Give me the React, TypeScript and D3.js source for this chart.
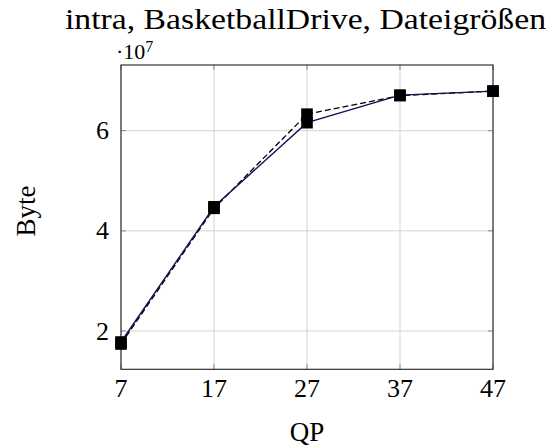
import React from "react";
import * as d3 from "d3";

const qpValues = [7, 17, 27, 37, 47];
const solidSeries = [1.78, 4.48, 6.16, 6.71, 6.79];
const dashedSeries = [1.74, 4.45, 6.33, 6.7, 6.79];
const yTicks = [2, 4, 6];
const xTicks = [7, 17, 27, 37, 47];

const W = 552;
const H = 448;
const FONT = "Liberation Serif, DejaVu Serif, serif";

export default function App() {
  const x = d3.scaleLinear().domain([7, 47]).range([121, 493]);
  const y = d3.scaleLinear().domain([1.235, 7.312]).range([369.3, 65]);
  const [x0, x1] = x.range();
  const [y0, y1] = y.range();

  const line = d3
    .line<number>()
    .x((_, i) => x(qpValues[i]))
    .y((d) => y(d));

  const ms = 11.6;

  const markers = (data: number[], key: string) =>
    data.map((v, i) => (
      <rect
        key={key + i}
        x={x(qpValues[i]) - ms / 2}
        y={y(v) - ms / 2}
        width={ms}
        height={ms}
        fill="#000"
      />
    ));

  const txt = { fontFamily: FONT };

  return (
    <svg
      width={W}
      height={H}
      style={{ position: "absolute", left: 0, top: 0, background: "#fff", fontFamily: FONT }}
    >
      {/* grid */}
      {xTicks.map((t) => (
        <line key={"gx" + t} x1={x(t)} x2={x(t)} y1={y1} y2={y0} stroke="#d3d3d3" strokeWidth={1} />
      ))}
      {yTicks.map((t) => (
        <line key={"gy" + t} x1={x0} x2={x1} y1={y(t)} y2={y(t)} stroke="#d3d3d3" strokeWidth={1} />
      ))}
      {/* tick marks */}
      {xTicks.map((t) => (
        <g key={"tx" + t} stroke="#8a8a8a" strokeWidth={1}>
          <line x1={x(t)} x2={x(t)} y1={y0} y2={y0 - 5} />
          <line x1={x(t)} x2={x(t)} y1={y1} y2={y1 + 5} />
        </g>
      ))}
      {yTicks.map((t) => (
        <g key={"ty" + t} stroke="#8a8a8a" strokeWidth={1}>
          <line x1={x0} x2={x0 + 5} y1={y(t)} y2={y(t)} />
          <line x1={x1} x2={x1 - 5} y1={y(t)} y2={y(t)} />
        </g>
      ))}
      {/* frame */}
      <rect x={x0} y={y1} width={x1 - x0} height={y0 - y1} fill="none" stroke="#222" strokeWidth={1.1} />

      {/* series */}
      <path d={line(dashedSeries) || ""} fill="none" stroke="#000" strokeWidth={1.3} strokeDasharray="6 3" />
      <path d={line(solidSeries) || ""} fill="none" stroke="#1e0b50" strokeWidth={1.4} />
      {markers(dashedSeries, "d")}
      {markers(solidSeries, "s")}

      {/* x tick labels */}
      {xTicks.map((t) => (
        <text key={"xl" + t} style={txt} x={x(t)} y={397} textAnchor="middle" fontSize={26} fill="#000">
          {t}
        </text>
      ))}
      {/* y tick labels */}
      {yTicks.map((t) => (
        <text key={"yl" + t} style={txt} x={109} y={y(t)} dy="0.33em" textAnchor="end" fontSize={26} fill="#000">
          {t}
        </text>
      ))}
      {/* scale label */}
      <text style={txt} x={116} y={59} fontSize={22} fill="#000">
        ·10<tspan fontSize={16} dy={-7}>7</tspan>
      </text>

      {/* axis labels */}
      <text style={txt} x={307} y={441} textAnchor="middle" fontSize={27} fill="#000">
        QP
      </text>
      <text style={txt} transform="translate(35,211) rotate(-90)" textAnchor="middle" fontSize={27} fill="#000">
        Byte
      </text>

      {/* title */}
      <text style={txt} x={305.5} y={29} textAnchor="middle" fontSize={29} fill="#000" textLength={481} lengthAdjust="spacingAndGlyphs">
        intra, BasketballDrive, Dateigrößen
      </text>
    </svg>
  );
}
